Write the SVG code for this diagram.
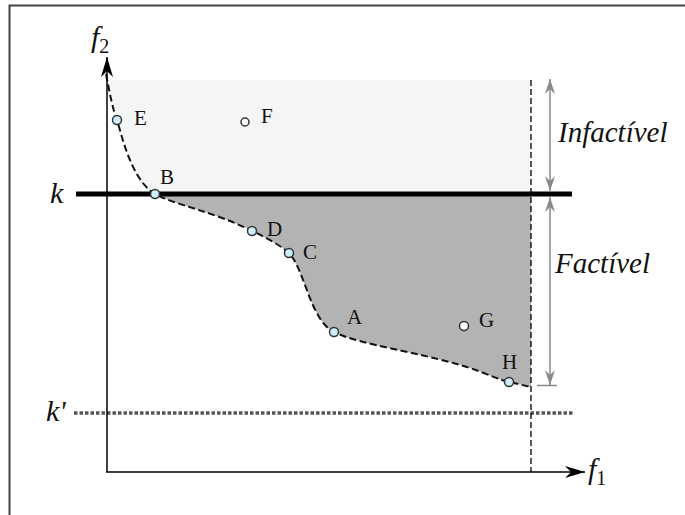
<svg xmlns="http://www.w3.org/2000/svg" width="685" height="515" viewBox="0 0 685 515">
<defs>
<marker id="ax" viewBox="-20 -7 22 14" refX="0" refY="0" markerWidth="22" markerHeight="14" markerUnits="userSpaceOnUse" orient="auto">
<path d="M0,0 L-20,-6 L-14,0 L-20,6 Z" fill="#000"/>
</marker>
<marker id="ga" viewBox="-16 -6 17 12" refX="0" refY="0" markerWidth="17" markerHeight="12" markerUnits="userSpaceOnUse" orient="auto-start-reverse">
<path d="M0,0 L-15,-5 L-10,0 L-15,5 Z" fill="#888"/>
</marker>
<style>
.lbl{font-family:"Liberation Serif",serif;font-size:21px;fill:#111}
.it{font-family:"Liberation Serif",serif;font-style:italic;fill:#111}
.pt{stroke:#333;stroke-width:1.5;fill:#cdeefb}
.pw{stroke:#333;stroke-width:1.5;fill:#fff}
.garr{stroke:#888;stroke-width:1.5;fill:none}
</style>
</defs>
<rect x="9.5" y="5.5" width="700" height="600" fill="#fff" stroke="#444" stroke-width="2"/>
<g id="regions">
<path id="infeasible" d="M106,80 L531,80 L531,194 L152,194 C138,185 128,160 121,135 C117,120 112,100 107,80 Z" fill="#f5f5f5"/>
<path id="feasible" d="M155,194 C175,205 215,212 252,231 C265,237 280,245 289,253 C305,270 310,320 334,332 C360,345 420,352 470,368 C490,375 500,380 509,382 L531,387 L531,194 Z" fill="#b3b3b3"/>
</g>
<g id="connectors">
<line id="k-line" x1="76" y1="194" x2="572" y2="194" stroke="#000" stroke-width="5"/>
<line id="kprime-line" x1="74" y1="413" x2="574" y2="413" stroke="#555" stroke-width="3.5" stroke-dasharray="3.5,2"/>
<line id="vdash" x1="531" y1="80" x2="531" y2="472" stroke="#000" stroke-width="1.3" stroke-dasharray="6,3"/>
<line id="y-axis" x1="107" y1="472" x2="107" y2="57" stroke="#000" stroke-width="1.5" marker-end="url(#ax)"/>
<line id="x-axis" x1="106" y1="472" x2="585" y2="472" stroke="#000" stroke-width="1.5" marker-end="url(#ax)"/>
<path id="pareto" d="M106,74 C110,95 113,110 117,120 C123,140 132,180 155,194 C175,205 215,212 252,231 C265,237 280,245 289,253 C305,270 310,320 334,332 C360,345 420,352 470,368 C490,375 500,380 509,382 L531,387" fill="none" stroke="#111" stroke-width="2" stroke-dasharray="7,3.5"/>
<line id="arr-inf" x1="550" y1="79" x2="550" y2="191" class="garr" marker-start="url(#ga)" marker-end="url(#ga)"/>
<line id="arr-fac" x1="550" y1="197" x2="550" y2="385" class="garr" marker-start="url(#ga)" marker-end="url(#ga)"/>
<line x1="537" y1="385.5" x2="557" y2="385.5" stroke="#888" stroke-width="1.5"/>
</g>
<g id="node-E"><circle cx="117" cy="120" r="4.5" class="pt"/><text x="134" y="125" class="lbl">E</text></g>
<g id="node-F"><circle cx="245" cy="122" r="4" class="pw"/><text x="261" y="123" class="lbl">F</text></g>
<g id="node-B"><circle cx="155" cy="194" r="4.5" class="pt"/><text x="160" y="184" class="lbl">B</text></g>
<g id="node-D"><circle cx="252" cy="231" r="4.5" class="pt"/><text x="267" y="236" class="lbl">D</text></g>
<g id="node-C"><circle cx="289" cy="253" r="4.5" class="pt"/><text x="303" y="259" class="lbl">C</text></g>
<g id="node-A"><circle cx="334" cy="332" r="4.5" class="pt"/><text x="347" y="324" class="lbl">A</text></g>
<g id="node-G"><circle cx="464" cy="326" r="4.5" class="pw"/><text x="479" y="327" class="lbl">G</text></g>
<g id="node-H"><circle cx="509" cy="382" r="4.5" class="pt"/><text x="502" y="369" class="lbl">H</text></g>
<g id="labels">
<text x="50" y="203" class="it" font-size="30">k</text>
<text x="46" y="421" class="it" font-size="30">k'</text>
<text x="91" y="47" class="it" font-size="30">f<tspan font-size="20" font-style="normal" dy="6">2</tspan></text>
<text x="588" y="479" class="it" font-size="30">f<tspan font-size="20" font-style="normal" dy="6">1</tspan></text>
<text x="558" y="142" class="it" font-size="29">Infactível</text>
<text x="555" y="273" class="it" font-size="29">Factível</text>
</g>
</svg>
